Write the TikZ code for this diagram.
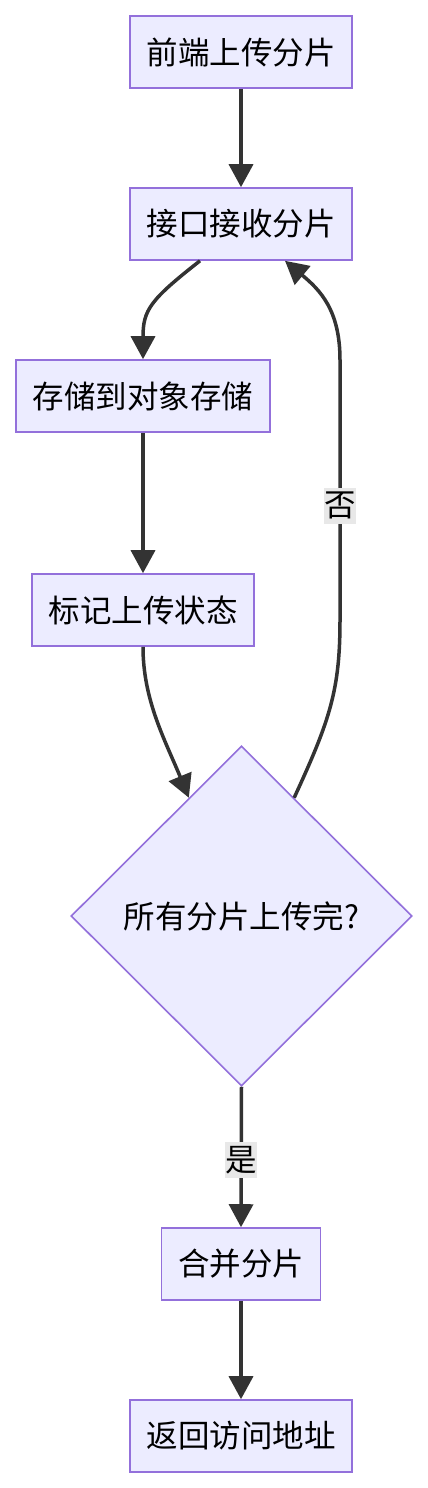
\documentclass[tikz,border=0pt]{standalone}
\usepackage{fontspec}
\setmainfont{Noto Sans CJK SC}
\usetikzlibrary{shapes.geometric,arrows.meta}
\definecolor{nodefill}{HTML}{ECECFF}
\definecolor{nodeline}{HTML}{9370DB}
\definecolor{edgeline}{HTML}{333333}
\definecolor{lblbg}{HTML}{E8E8E8}
\begin{document}
\begin{tikzpicture}[x=1pt,y=-1pt,
  box/.style={draw=nodeline,fill=nodefill,line width=1.6pt,rectangle,inner sep=0pt,
    minimum height=72pt,font=\fontsize{31.5}{36}\selectfont},
  dec/.style={draw=nodeline,fill=nodefill,line width=1.6pt,diamond,inner sep=0pt,
    minimum width=341pt,minimum height=340pt,font=\fontsize{31.5}{36}\selectfont},
  edge/.style={draw=edgeline,line width=3.5pt,-{Triangle[length=23pt,width=24pt]}},
  lbl/.style={fill=lblbg,inner sep=0pt,minimum width=32pt,minimum height=36pt,
    font=\fontsize{31.5}{36}\selectfont}]
\fill[white] (0,0) rectangle (428,1488);
\useasboundingbox (0,0) rectangle (428,1488);

\node[box,minimum width=222pt] (n1) at (241,52) {前端上传分片};
\node[box,minimum width=222pt] (n2) at (241,224) {接口接收分片};
\node[box,minimum width=254pt] (n3) at (143,396) {存储到对象存储};
\node[box,minimum width=222pt] (n4) at (143,610) {标记上传状态};
\node[dec] (d) at (241.5,916) {所有分片上传完?};
\node[box,minimum width=159pt] (n6) at (241,1264) {合并分片};
\node[box,minimum width=222pt] (n7) at (241,1436) {返回访问地址};

\draw[edge] (n1.south) -- (n2.north);
\draw[edge] ([xshift=-41pt]n2.south) .. controls (150,300) and (143,310) .. (n3.north);
\draw[edge] (n3.south) -- (n4.north);
\draw[edge] (n4.south) .. controls (143,700) and (165,740) .. (d.114);
\draw[edge] (d.66) .. controls (330,720) and (340,690) .. (340,620)
  -- node[lbl,pos=0.44] (no) {否} (340,360)
  .. controls (340,310) and (320,290) .. ([xshift=44pt]n2.south);
\draw[edge] (d.south) -- node[lbl,pos=0.52] (yes) {是} (n6.north);
\draw[edge] (n6.south) -- (n7.north);
\end{tikzpicture}
\end{document}
